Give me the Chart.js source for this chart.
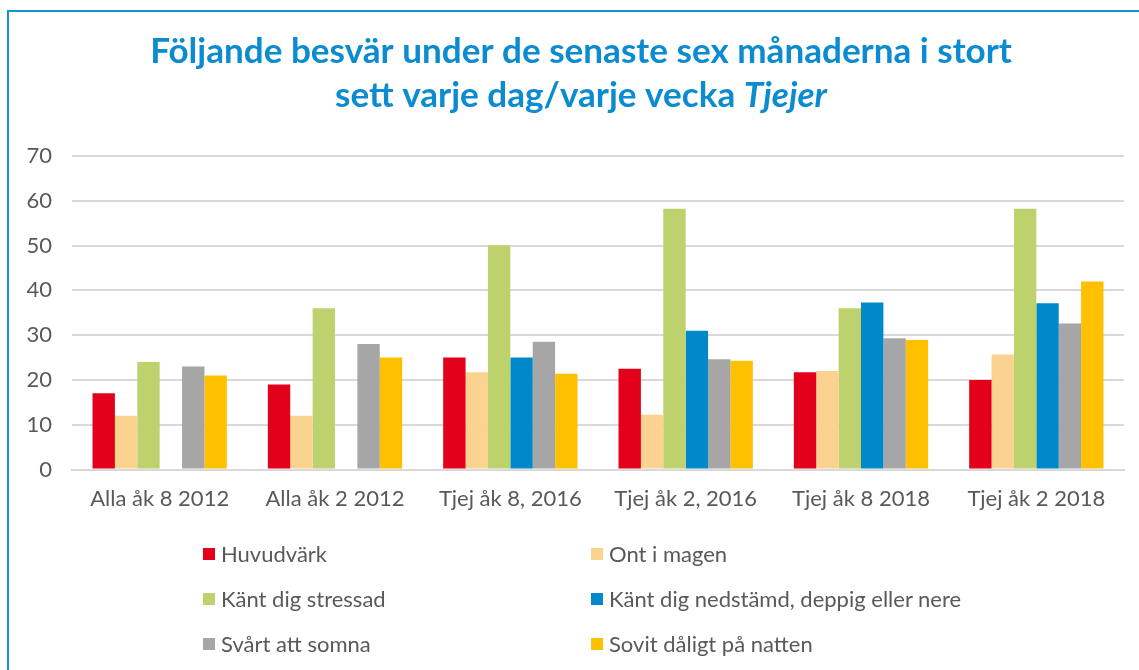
<!DOCTYPE html>
<html>
<head>
<meta charset="utf-8">
<script src="https://cdn.jsdelivr.net/npm/chart.js@4/dist/chart.umd.min.js"></script>
<style>
  html, body { margin: 0; padding: 0; background: #ffffff; }
  #wrap { position: relative; width: 1139px; height: 670px; overflow: hidden; background: #fff; }
  #frame { position: absolute; left: 7px; top: 10px; width: 1200px; height: 700px;
           border-left: 2.5px solid #1391D9; border-top: 2.5px solid #1391D9; box-sizing: border-box; }
  #c { position: absolute; left: 0; top: 0; }
  #legend { position: absolute; left: 0; top: 0; width: 1139px; height: 670px; pointer-events: none;
            font-family: Lato, "DejaVu Sans", sans-serif; font-size: 22px; color: #595959; }
  .li { position: absolute; white-space: nowrap; line-height: 24px; height: 24px; }
  .sw { position: absolute; width: 12px; height: 12px; top: 6px; left: 0; }
  .tx { position: absolute; left: 18px; top: 0; }
</style>
</head>
<body>
<div id="wrap">
  <div id="frame"></div>
  <canvas id="c" width="1139" height="670"></canvas>
  <div id="legend"></div>
</div>
<script>
// ---- data ----
const categories = ["Alla åk 8 2012", "Alla åk 2 2012", "Tjej åk 8, 2016", "Tjej åk 2, 2016", "Tjej åk 8 2018", "Tjej åk 2 2018"];
const seriesNames = ["Huvudvärk", "Ont i magen", "Känt dig stressad", "Känt dig nedstämd, deppig eller nere", "Svårt att somna", "Sovit dåligt på natten"];
const huvudvark   = [17, 19, 25, 22.5, 21.7, 20];
const ontIMagen   = [12, 12, 21.7, 12.2, 22, 25.7];
const stressad    = [24, 36, 50, 58.2, 36, 58.2];
const nedstamd    = [null, null, 25, 31, 37.3, 37.1];
const svartSomna  = [23, 28, 28.5, 24.6, 29.3, 32.6];
const sovitDaligt = [21, 25, 21.4, 24.3, 28.9, 42];
const yTicks = [0, 10, 20, 30, 40, 50, 60, 70];
const titleLine1 = "Följande besvär under de senaste sex månaderna i stort";
const titleLine2a = "sett varje dag/varje vecka ";
const titleLine2b = "Tjejer";

const colors = ["#E2001A", "#FAD391", "#BDD26D", "#0089CA", "#A6A6A6", "#FFC000"];
const seriesValues = [huvudvark, ontIMagen, stressad, nedstamd, svartSomna, sovitDaligt];

const datasets = seriesNames.map((name, i) => ({
  label: name,
  data: seriesValues[i],
  backgroundColor: colors[i],
  borderWidth: 0,
  categoryPercentage: 0.766,
  barPercentage: 1.0
}));

const titlePlugin = {
  id: 'customTitle',
  afterDraw(chart) {
    const ctx = chart.ctx;
    ctx.save();
    ctx.fillStyle = '#0B8BD0';
    ctx.textBaseline = 'alphabetic';
    let size = 30;
    ctx.font = `bold ${size}px Lato`;
    const w100 = ctx.measureText(titleLine1).width;
    size = size * 862 / w100;
    ctx.font = `bold ${size}px Lato`;
    const cx = 581;
    ctx.textAlign = 'center';
    ctx.fillText(titleLine1, cx, 63);
    ctx.textAlign = 'left';
    const wa = ctx.measureText(titleLine2a).width;
    ctx.font = `italic bold ${size}px Lato`;
    const wb = ctx.measureText(titleLine2b).width;
    const x0 = cx - (wa + wb) / 2;
    ctx.font = `bold ${size}px Lato`;
    ctx.fillText(titleLine2a, x0, 107);
    ctx.font = `italic bold ${size}px Lato`;
    ctx.fillText(titleLine2b, x0 + wa, 107);
    ctx.restore();
  }
};

const chart = new Chart(document.getElementById('c'), {
  type: 'bar',
  data: { labels: categories, datasets },
  plugins: [titlePlugin],
  options: {
    responsive: false,
    animation: false,
    devicePixelRatio: 1,
    layout: { padding: { left: 0, right: 15, top: 156, bottom: 155.5 } },
    plugins: {
      legend: { display: false },
      title: { display: false },
      tooltip: { enabled: false }
    },
    scales: {
      x: {
        grid: { display: false, drawTicks: false },
        border: { display: true, color: '#D9D9D9', width: 2 },
        ticks: { color: '#595959', font: { family: 'Lato', size: 22 }, padding: 16, maxRotation: 0, autoSkip: false },
        afterFit(scale) { scale.height = 45; }
      },
      y: {
        min: 0, max: 70,
        afterBuildTicks(scale) { scale.ticks = yTicks.map(v => ({ value: v })); },
        grid: { color: '#D9D9D9', lineWidth: 2, drawTicks: false },
        border: { display: false },
        ticks: { color: '#595959', font: { family: 'Lato', size: 22 }, padding: 20 },
        afterFit(scale) { scale.width = 72; }
      }
    }
  }
});

// legend (2 columns, 3 rows)
const legendEl = document.getElementById('legend');
const colX = [203, 591];
const rowY = [542, 587, 632];
seriesNames.forEach((name, i) => {
  const it = document.createElement('div');
  it.className = 'li';
  it.style.left = colX[i % 2] + 'px';
  it.style.top = rowY[Math.floor(i / 2)] + 'px';
  const sw = document.createElement('span');
  sw.className = 'sw';
  sw.style.background = colors[i];
  const tx = document.createElement('span');
  tx.className = 'tx';
  tx.textContent = name;
  it.appendChild(sw); it.appendChild(tx);
  legendEl.appendChild(it);
});
</script>
</body>
</html>
